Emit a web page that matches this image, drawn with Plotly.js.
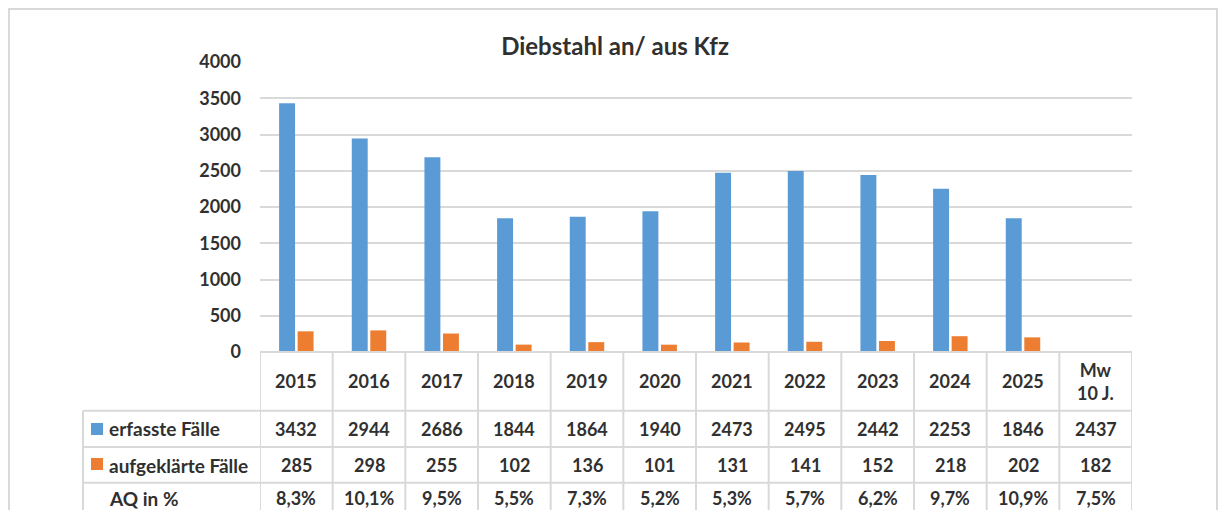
<!DOCTYPE html>
<html>
<head>
<meta charset="utf-8">
<script src="https://cdn.plot.ly/plotly-3.0.1.min.js"></script>
<style>html,body{margin:0;padding:0;background:#fff;}#chart{width:1218px;height:510px;}</style>
</head>
<body>
<div id="chart"></div>
<script>
// ---- Data ----
const categories = ["2015","2016","2017","2018","2019","2020","2021","2022","2023","2024","2025","Mw<br>10 J."];
const erfassteFaelle = [3432, 2944, 2686, 1844, 1864, 1940, 2473, 2495, 2442, 2253, 1846, 2437];
const aufgeklaerteFaelle = [285, 298, 255, 102, 136, 101, 131, 141, 152, 218, 202, 182];
const aqInProzent = ["8,3%","10,1%","9,5%","5,5%","7,3%","5,2%","5,3%","5,7%","6,2%","9,7%","10,9%","7,5%"];
const seriesNames = ["erfasste Fälle", "aufgeklärte Fälle", "AQ in %"];
const yTicks = [0, 500, 1000, 1500, 2000, 2500, 3000, 3500, 4000];
const chartTitle = "Diebstahl an/ aus Kfz";

// ---- Styles ----
const BLUE = "#5B9BD5", ORANGE = "#ED7D31", GRID = "#d9d9d9", TXT = "#303030";
const FONT = "Lato, 'Open Sans', sans-serif";

// bars: the mean column gets no bar
const barCount = categories.length - 1;
const blueBars = erfassteFaelle.slice(0, barCount).concat([null]);
const orangeBars = aufgeklaerteFaelle.slice(0, barCount).concat([null]);

const traces = [
  {type: "bar", x: categories, y: blueBars, name: seriesNames[0], marker: {color: BLUE}},
  {type: "bar", x: categories, y: orangeBars, name: seriesNames[1], marker: {color: ORANGE}}
];

// table geometry (paper coords, plot area is y 0..1)
const rowBounds = [0, -0.2025, -0.328, -0.451, -0.58];
const rowCenters = [-0.1, -0.2655, -0.3897, -0.505];
const legendLeft = -0.203;

const shapes = [];
const annotations = [];
const n = categories.length;
for (let i = 0; i <= n; i++) {
  shapes.push({type: "line", xref: "x", yref: "paper", x0: i - 0.5, x1: i - 0.5,
    y0: rowBounds[0], y1: rowBounds[4], line: {color: GRID, width: 2}});
}
shapes.push({type: "line", xref: "paper", yref: "paper", x0: legendLeft, x1: legendLeft,
  y0: rowBounds[1], y1: rowBounds[4], line: {color: GRID, width: 2}});
shapes.push({type: "line", xref: "x", yref: "paper", x0: -0.5, x1: n - 0.5, y0: 0, y1: 0, line: {color: GRID, width: 2}});
for (let r = 1; r <= 3; r++) {
  shapes.push({type: "line", xref: "paper", yref: "paper", x0: legendLeft, x1: 1,
    y0: rowBounds[r], y1: rowBounds[r], line: {color: GRID, width: 2}});
}
// legend keys
const legendColors = [BLUE, ORANGE];
const keyY = [[-0.2862, -0.2448], [-0.4069, -0.3655]];
legendColors.forEach((c, k) => {
  shapes.push({type: "rect", xref: "paper", yref: "paper", x0: -0.1938, x1: -0.18,
    y0: keyY[k][0], y1: keyY[k][1], fillcolor: c, line: {width: 0}});
});
// outer chart border
shapes.push({type: "rect", xref: "paper", yref: "paper", x0: -0.2878, x1: 1.0975, y0: -0.62, y1: 1.1828,
  line: {color: GRID, width: 2}, fillcolor: "rgba(0,0,0,0)"});

const cellFont = {family: FONT, size: 18, color: TXT, weight: "bold"};
function cell(i, y, text) {
  return {xref: "x", yref: "paper", x: i, y: y, xanchor: "center", yanchor: "middle",
    text: "<b>" + text + "</b>", showarrow: false, font: cellFont, align: "center"};
}
categories.forEach((c, i) => {
  annotations.push(cell(i, rowCenters[0], c));
  annotations.push(cell(i, rowCenters[1], erfassteFaelle[i]));
  annotations.push(cell(i, rowCenters[2], aufgeklaerteFaelle[i]));
  annotations.push(cell(i, rowCenters[3], aqInProzent[i]));
});
seriesNames.forEach((s, r) => {
  annotations.push({xref: "paper", yref: "paper", x: -0.1755, y: rowCenters[r + 1], xanchor: "left",
    yanchor: "middle", text: "<b>" + s + "</b>", showarrow: false, font: {family: FONT, size: 19, color: TXT}});
});

const layout = {
  width: 1218, height: 510,
  margin: {l: 260, r: 86, t: 62, b: 158},
  paper_bgcolor: "#fff", plot_bgcolor: "#fff",
  title: {text: "<b>" + chartTitle + "</b>", font: {family: FONT, size: 24, color: TXT},
    xref: "container", x: 0.505, y: 0.908, yanchor: "middle"},
  showlegend: false,
  barmode: "group", bargap: 0.49, bargroupgap: 0.14,
  xaxis: {type: "category", showticklabels: false, showgrid: false, zeroline: false, showline: false,
    ticks: "", range: [-0.5, n - 0.5]},
  yaxis: {range: [0, 4000], tickvals: yTicks, ticktext: yTicks.map(String), showgrid: true, gridcolor: GRID,
    gridwidth: 2, zeroline: false, showline: false, ticks: "", ticklabelstandoff: 18,
    tickfont: {family: FONT, size: 18, color: TXT, weight: "bold"}},
  shapes: shapes,
  annotations: annotations,
  font: {family: FONT, color: TXT}
};

Plotly.newPlot("chart", traces, layout, {staticPlot: true, displayModeBar: false});
</script>
</body>
</html>
